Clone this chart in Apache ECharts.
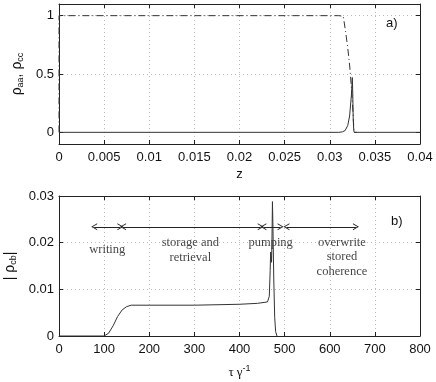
<!DOCTYPE html>
<html>
<head>
<meta charset="utf-8">
<script src="https://cdn.jsdelivr.net/npm/echarts@6/dist/echarts.min.js"></script>
<style>
  html, body { margin: 0; padding: 0; background: #fff; }
  #main { width: 436px; height: 382px; }
</style>
</head>
<body>
<div id="main"></div>
<script>
// panel a) : rho_aa (dashed) and rho_cc (solid) against z
var zDashed   = [0, 0, 0.031, 0.0315, 0.03178, 0.032, 0.03222, 0.0324, 0.03256, 0.03265, 0.0327, 0.033];
var rhoDashed = [0, 1, 1,     0.995,  0.85,    0.72,  0.56,    0.38,   0.19,    0.06,    0,      0];
var zSolid    = [0, 0.031, 0.0314, 0.0317, 0.032, 0.0322, 0.0324, 0.0325, 0.03255, 0.0326, 0.03265, 0.0327, 0.04];
var rhoSolid  = [0, 0,     0.004,  0.015,  0.06,  0.14,   0.32,   0.47,   0.33,    0.12,   0.03,    0,      0];
var yTicksA = [0, 0.5, 1];

// panel b) : |rho_cb| against tau*gamma^-1
var tau   = [0, 100, 110, 120, 130, 140, 150, 160, 200, 300, 400, 440, 462, 466, 468, 469, 471, 472, 473, 474, 476, 478, 480, 483];
var rhoCb = [0, 0, 0.0006, 0.0022, 0.0042, 0.0056, 0.0063, 0.0066, 0.0066, 0.0066, 0.0068, 0.007, 0.0073, 0.0085, 0.014, 0.018, 0.0158, 0.021, 0.0288, 0.024, 0.012, 0.004, 0.001, 0];

// annotations (data coordinates)
var arrowY = 0.0234;
var arrowSpans = [[78, 136], [142, 447], [453, 491], [504, 658]];
var noteText = ['writing', 'storage and\nretrieval', 'pumping', 'overwrite\nstored\ncoherence'];
var notePos  = [[107, 0.0184], [291, 0.0184], [469, 0.0199], [627, 0.0169]];

function pairs(xs, ys) {
    var out = [];
    for (var i = 0; i < xs.length; i++) out.push([xs[i], ys[i]]);
    return out;
}

var myChart = echarts.init(document.getElementById('main'));
var axisColor = '#222';
var sans = 'Liberation Sans';
var serif = 'Liberation Serif';
var chevron = 'path://M0,10 L5,0 L10,10 L8.6,10 L5,2.8 L1.4,10 Z';

var tickLabel = { color: '#111', fontSize: 13, fontFamily: sans };
var gridLine = { show: true, lineStyle: { color: '#bbb', type: [1, 3], width: 1 } };

function frameAxis(extra) {
    var base = {
        axisLine: { show: true, onZero: false, lineStyle: { color: axisColor, width: 1 } },
        axisTick: { show: true, inside: true, length: 4, lineStyle: { color: axisColor } },
        axisLabel: { show: false },
        splitLine: { show: false }
    };
    return Object.assign(base, extra);
}

var option = {
    backgroundColor: '#fff',
    animation: false,
    grid: [
        { left: 59, right: 16, top: 4, height: 140, outerBoundsMode: 'none', containLabel: false },
        { left: 59, right: 16, top: 196, height: 140, outerBoundsMode: 'none', containLabel: false }
    ],
    xAxis: [
        frameAxis({
            type: 'value', gridIndex: 0, min: 0, max: 0.04, interval: 0.005, position: 'bottom',
            axisLabel: Object.assign({ show: true, margin: 7, formatter: function (v) { return String(+v.toFixed(3)); } }, tickLabel),
            splitLine: gridLine,
            name: 'z', nameLocation: 'middle', nameGap: 24,
            nameTextStyle: { color: '#111', fontSize: 13, fontFamily: sans }
        }),
        frameAxis({ type: 'value', gridIndex: 0, min: 0, max: 0.04, interval: 0.005, position: 'top' }),
        frameAxis({
            type: 'value', gridIndex: 1, min: 0, max: 800, interval: 100, position: 'bottom',
            axisLabel: Object.assign({ show: true, margin: 7 }, tickLabel),
            splitLine: gridLine,
            name: '{a|τ γ}{s|-1}', nameLocation: 'middle', nameGap: 28,
            nameTextStyle: {
                rich: {
                    a: { fontFamily: serif, fontSize: 13, color: '#111' },
                    s: { fontFamily: sans, fontSize: 9, color: '#111', padding: [0, 0, 8, 0] }
                }
            }
        }),
        frameAxis({ type: 'value', gridIndex: 1, min: 0, max: 800, interval: 100, position: 'top' })
    ],
    yAxis: [
        frameAxis({
            type: 'value', gridIndex: 0, min: -0.1, max: 1.1, position: 'left',
            axisTick: { show: true, inside: true, length: 4, customValues: yTicksA, lineStyle: { color: axisColor } },
            axisLabel: Object.assign({ show: true, margin: 5, customValues: yTicksA }, tickLabel),
            name: '{a|ρ}{s|aa}{a|, ρ}{s|cc}', nameLocation: 'middle', nameGap: 30, nameRotate: 90,
            nameTextStyle: {
                rich: {
                    a: { fontFamily: sans, fontSize: 14, color: '#111' },
                    s: { fontFamily: sans, fontSize: 9, color: '#111', padding: [6, 0, 0, 0] }
                }
            }
        }),
        frameAxis({
            type: 'value', gridIndex: 0, min: -0.1, max: 1.1, position: 'right',
            axisTick: { show: true, inside: true, length: 4, customValues: yTicksA, lineStyle: { color: axisColor } }
        }),
        frameAxis({
            type: 'value', gridIndex: 1, min: 0, max: 0.03, interval: 0.01, position: 'left',
            axisLabel: Object.assign({ show: true, margin: 5 }, tickLabel),
            splitLine: gridLine,
            name: '{a|| ρ}{s|cb}{a||}', nameLocation: 'middle', nameGap: 38, nameRotate: 90,
            nameTextStyle: {
                rich: {
                    a: { fontFamily: sans, fontSize: 14, color: '#111' },
                    s: { fontFamily: sans, fontSize: 9, color: '#111', padding: [6, 0, 0, 0] }
                }
            }
        }),
        frameAxis({ type: 'value', gridIndex: 1, min: 0, max: 0.03, interval: 0.01, position: 'right' })
    ],
    graphic: [
        { type: 'text', left: 386, top: 17, style: { text: 'a)', font: '13px "Liberation Sans"', fill: '#111' } },
        { type: 'text', left: 391, top: 215, style: { text: 'b)', font: '13px "Liberation Sans"', fill: '#111' } }
    ],
    series: [
        {
            // horizontal dotted grid lines of panel a), kept under the curves
            type: 'line', xAxisIndex: 0, yAxisIndex: 0, data: [], silent: true, z: 0,
            markLine: {
                symbol: 'none', silent: true, label: { show: false }, z: 0,
                lineStyle: { color: '#bbb', type: [1, 3], width: 1 },
                data: yTicksA.filter(function (v) { return v !== 0; }).map(function (v) { return { yAxis: v }; })
            }
        },
        {
            name: 'rho_cc', type: 'line', xAxisIndex: 0, yAxisIndex: 0,
            data: pairs(zSolid, rhoSolid), showSymbol: false, symbol: 'none',
            lineStyle: { color: '#333', width: 1 }
        },
        {
            name: 'rho_aa', type: 'line', xAxisIndex: 0, yAxisIndex: 0,
            data: pairs(zDashed, rhoDashed), showSymbol: false, symbol: 'none',
            lineStyle: { color: '#333', width: 1, type: [7, 3, 1, 3] }
        },
        {
            name: 'rho_cb', type: 'line', xAxisIndex: 2, yAxisIndex: 2,
            data: pairs(tau, rhoCb), showSymbol: false, symbol: 'none',
            lineStyle: { color: '#333', width: 1 },
            markLine: {
                silent: true, symbol: [chevron, chevron], symbolSize: [7, 6],
                label: { show: false },
                lineStyle: { color: '#222', type: 'solid', width: 1 },
                data: arrowSpans.map(function (s) {
                    return [{ coord: [s[0], arrowY] }, { coord: [s[1], arrowY] }];
                })
            }
        },
        {
            type: 'scatter', xAxisIndex: 2, yAxisIndex: 2, symbolSize: 0, silent: true,
            data: notePos.map(function (p, i) { return { value: p, name: noteText[i] }; }),
            label: {
                show: true, position: 'inside', formatter: function (p) { return p.name; },
                fontFamily: serif, fontSize: 12.5, lineHeight: 14.5, color: '#111', align: 'center'
            }
        }
    ]
};

myChart.setOption(option);
</script>
</body>
</html>
